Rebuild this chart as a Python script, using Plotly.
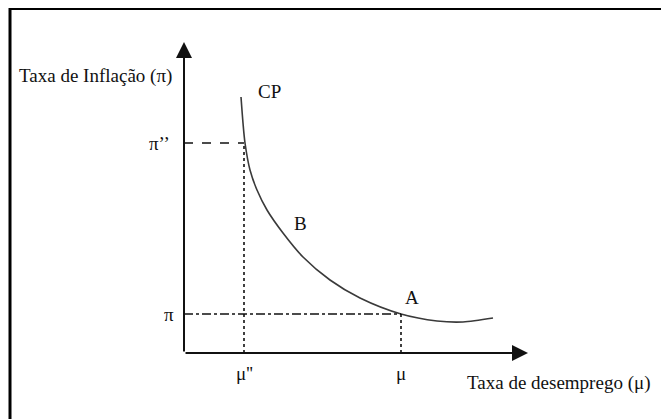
import plotly.graph_objects as go

# Curva de Phillips (CP)
desemprego = [57, 59, 61, 66, 73, 83, 99, 119, 146, 176, 217, 253, 279, 309]
inflacao = [256, 230, 210, 183, 163, 143, 120, 96, 73, 55, 39, 32, 31, 35]

mu_2, pi_2 = 60, 210   # ponto sobre a curva (mu'', pi'')
mu_1, pi_1 = 217, 39   # ponto A (mu, pi)
b_x, b_y = 100, 120    # ponto B
x_max, y_max = 344, 311  # pontas das setas

serif = "Liberation Serif"
ink = "#111111"

fig = go.Figure()

fig.add_trace(go.Scatter(
    x=desemprego, y=inflacao, mode="lines",
    line=dict(color="#3a3a3a", width=1.6, shape="spline", smoothing=0.8),
    hoverinfo="skip"))

# linhas tracejadas de referencia
guides = [
    ([0, mu_2], [pi_2, pi_2], "dash"),
    ([mu_2, mu_2], [0, pi_2], "dot"),
    ([0, mu_1], [pi_1, pi_1], "dashdot"),
    ([mu_1, mu_1], [0, pi_1], "dot"),
]
for gx, gy, d in guides:
    fig.add_trace(go.Scatter(x=gx, y=gy, mode="lines",
                             line=dict(color=ink, width=1.6, dash=d),
                             hoverinfo="skip"))

# eixos com setas
for tip, tail in [((0, y_max), (0, 0)), ((x_max, 0), (0, 0))]:
    fig.add_annotation(x=tip[0], y=tip[1], ax=tail[0], ay=tail[1],
                       xref="x", yref="y", axref="x", ayref="y",
                       showarrow=True, arrowhead=2, arrowsize=1.6,
                       arrowwidth=2, arrowcolor=ink, text="")

labels = [
    ("Taxa de Inflação (π)", -89, 277, "center"),
    ("π’’", -12, pi_2, "right"),
    ("π", -8, pi_1, "right"),
    ("μ''", mu_2, -20, "center"),
    ("μ", mu_1, -20, "center"),
    ("CP", 85, 262, "center"),
    ("B", b_x + 16, b_y + 10, "center"),
    ("A", mu_1 + 11, pi_1 + 17, "center"),
    ("Taxa de desemprego (μ)", 374, -30, "center"),
]
for txt, lx, ly, anc in labels:
    fig.add_annotation(x=lx, y=ly, text=txt, showarrow=False,
                       xanchor=anc, yanchor="middle",
                       font=dict(family=serif, size=19, color=ink))

# moldura (so lados esquerdo e superior aparecem; a pagina desloca 8px)
fig.add_shape(type="path", xref="paper", yref="paper",
              path="M 0.003,0 L 0.003,0.999 L 1,0.999",
              line=dict(color="black", width=3))

fig.update_layout(
    width=669, height=419,
    margin=dict(l=0, r=0, t=0, b=0),
    showlegend=False,
    paper_bgcolor="white", plot_bgcolor="white",
    xaxis=dict(range=[-176, 493], visible=False, fixedrange=True),
    yaxis=dict(range=[-74, 345], visible=False, fixedrange=True),
)

fig.write_html("out.html")
